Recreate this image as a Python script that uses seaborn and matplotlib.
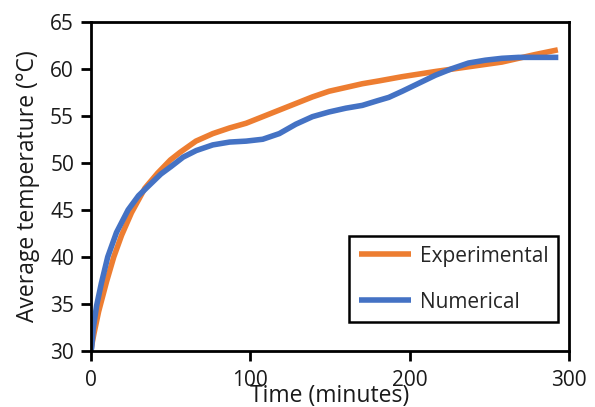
import matplotlib
matplotlib.use("Agg")
import matplotlib.pyplot as plt
import seaborn as sns
import pandas as pd

time_exp = [0, 2, 5, 10, 14.5, 19.4, 25.6, 34, 42, 50, 56, 66, 76.6, 87.1, 97.5, 107.9,
            118.3, 128.7, 139.1, 149.5, 160, 170.4, 180.8, 195.4, 216.2, 237, 257.9, 278.7, 293]
temp_exp = [30, 31.8, 34.2, 37.4, 40.0, 42.3, 44.7, 47.3, 48.9, 50.3, 51.1, 52.3, 53.1, 53.7,
            54.2, 54.9, 55.6, 56.3, 57.0, 57.6, 58.0, 58.4, 58.7, 59.15, 59.7, 60.2, 60.7,
            61.5, 62.0]

time_num = [0, 0.6, 1.6, 3.7, 6.7, 10.7, 16.2, 23.5, 30, 37.9, 44, 50.4, 58, 66.2, 76.6,
            87.1, 97.5, 107.9, 118.3, 128.7, 139.1, 149.5, 160, 170.4, 180, 187, 195.4, 205.8,
            216.2, 226.6, 237, 247.5, 257.9, 268.3, 278.7, 293.3]
temp_num = [30, 30.3, 32.4, 34.8, 37.2, 40.0, 42.6, 45.0, 46.5, 47.8, 48.8, 49.6, 50.6, 51.3,
            51.9, 52.2, 52.3, 52.5, 53.1, 54.1, 54.9, 55.4, 55.8, 56.1, 56.6, 56.95, 57.6,
            58.45, 59.3, 60.0, 60.6, 60.9, 61.1, 61.2, 61.2, 61.2]

series_names = ["Experimental", "Numerical"]
colors = ["#ED7D31", "#4472C4"]
x_ticks = [0, 100, 200, 300]
y_ticks = [30, 35, 40, 45, 50, 55, 60, 65]

df = pd.concat([
    pd.DataFrame({"Time": time_exp, "Temp": temp_exp, "Series": series_names[0]}),
    pd.DataFrame({"Time": time_num, "Temp": temp_num, "Series": series_names[1]}),
])

sns.set_theme(style="ticks")
plt.rcParams["font.family"] = ["Open Sans", "DejaVu Sans"]

txt = "#1a1a1a"
fig = plt.figure(figsize=(5.95, 4.07), dpi=100)
ax = fig.add_axes([0.1524, 0.1376, 0.8039, 0.8093])

sns.lineplot(data=df, x="Time", y="Temp", hue="Series", palette=colors,
             linewidth=4.0, ax=ax, sort=False, legend=True)
for line in ax.get_lines():
    line.set_solid_capstyle("butt")
    line.set_solid_joinstyle("round")

ax.set_xlim(0, 300)
ax.set_ylim(30, 65)
ax.set_xticks(x_ticks)
ax.set_yticks(y_ticks)
for s in ax.spines.values():
    s.set_linewidth(2)
    s.set_color("black")
ax.tick_params(axis="both", direction="out", length=7, width=2, color="black",
               labelsize=15, labelcolor=txt)
ax.tick_params(axis="x", pad=7)
ax.tick_params(axis="y", pad=5)

ax.set_xlabel("Time (minutes)", fontsize=16.5, color=txt)
ax.set_ylabel("Average temperature (°C)", fontsize=16.5, color=txt)
ax.xaxis.set_label_coords(0.5, -0.137)
ax.xaxis.label.set_va("center")
ax.yaxis.set_label_coords(-0.131, 0.5)
ax.yaxis.label.set_va("center")

leg = ax.legend(loc="lower right", bbox_to_anchor=(0.977, 0.088), fontsize=15,
                frameon=True, fancybox=False, edgecolor="black", framealpha=1,
                handlelength=2.5, handletextpad=0.45, labelspacing=1.2, borderpad=0.45,
                borderaxespad=0)
leg.get_frame().set_linewidth(1.8)
for h in leg.get_lines():
    h.set_linewidth(4.0)

fig.savefig("out.png", dpi=100)
